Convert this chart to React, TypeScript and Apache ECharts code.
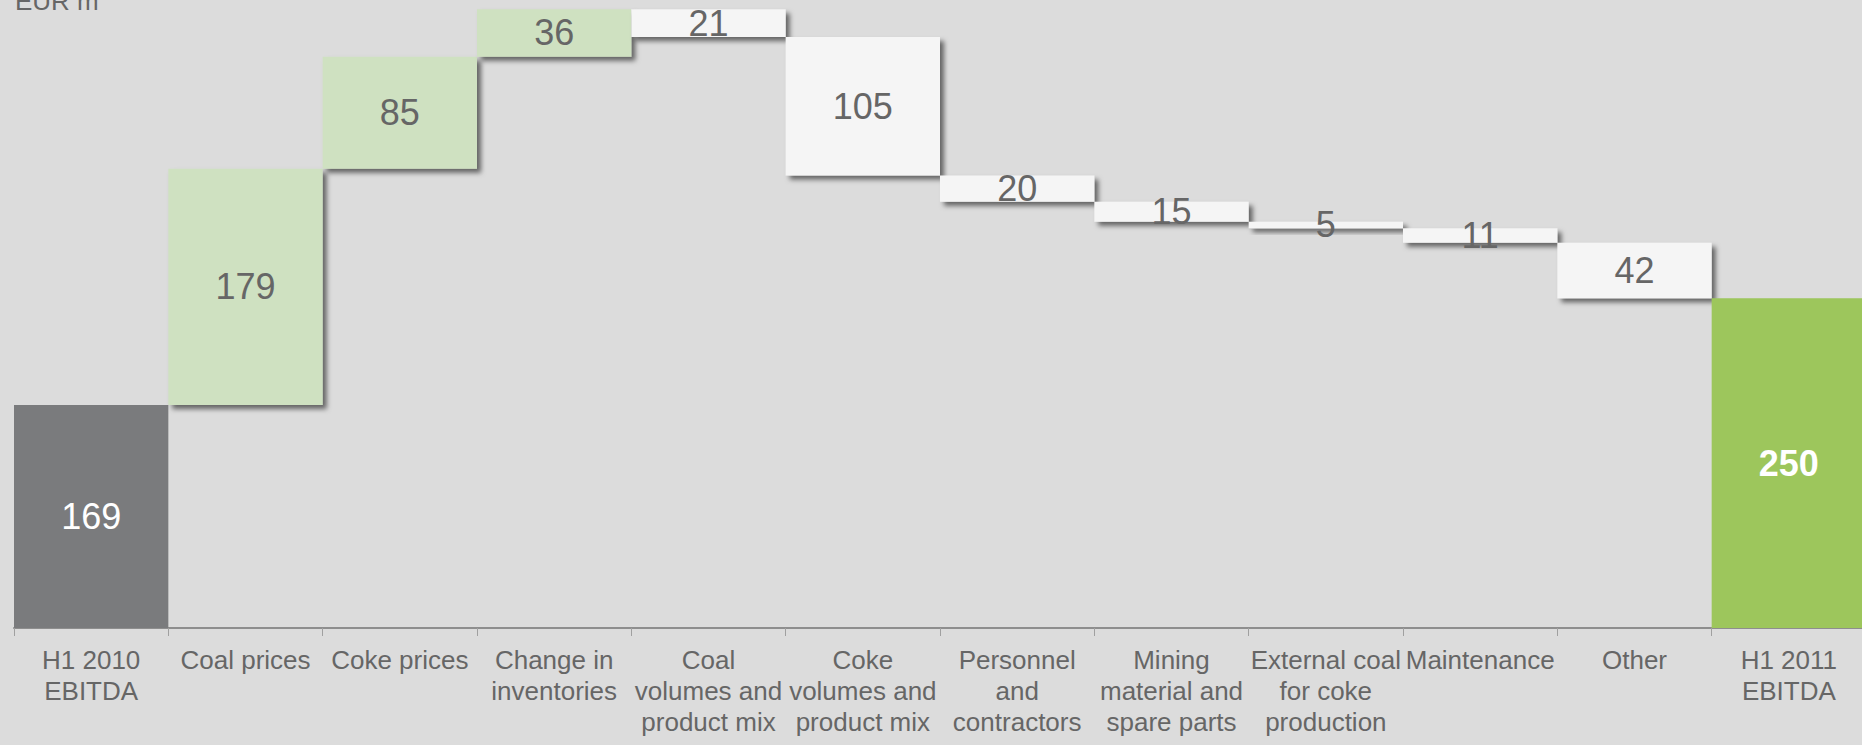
import React, { useEffect, useRef } from "react";
import * as echarts from "echarts";

// EBITDA bridge, EUR m
const categories = [
  "H1 2010\nEBITDA",
  "Coal prices",
  "Coke prices",
  "Change in\ninventories",
  "Coal\nvolumes and\nproduct mix",
  "Coke\nvolumes and\nproduct mix",
  "Personnel\nand\ncontractors",
  "Mining\nmaterial and\nspare parts",
  "External coal\nfor coke\nproduction",
  "Maintenance",
  "Other",
  "H1 2011\nEBITDA",
];

// first and last entries are totals, the rest are changes
const deltas = [169, 179, 85, 36, -21, -105, -20, -15, -5, -11, -42, 250];

const BG = "#DCDCDC";
const TEXT = "#666666";
const COL_START = "#7A7B7D";
const COL_UP = "#CFE1C1";
const COL_DOWN = "#F5F5F5";
const COL_END = "#9DC65C";
const FONT = 'Arial, "Liberation Sans", sans-serif';

function buildSteps() {
  const bases: number[] = [];
  const heights: number[] = [];
  let running = 0;
  deltas.forEach((d, i) => {
    if (i === 0 || i === deltas.length - 1) {
      bases.push(0);
      heights.push(d);
      running = d;
    } else if (d >= 0) {
      bases.push(running);
      heights.push(d);
      running += d;
    } else {
      running += d;
      bases.push(running);
      heights.push(-d);
    }
  });
  return { bases, heights };
}

export default function App() {
  const ref = useRef<HTMLDivElement>(null);

  useEffect(() => {
    document.body.style.margin = "0";
    document.body.style.background = BG;
    document.documentElement.style.overflow = "hidden";
    document.body.style.overflow = "hidden";
    if (!ref.current) return;
    const chart = echarts.init(ref.current, undefined, { renderer: "svg" });
    const { bases, heights } = buildSteps();
    const last = deltas.length - 1;

    const shadow = {
      shadowColor: "rgba(0,0,0,0.55)",
      shadowBlur: 5,
      shadowOffsetX: 4,
      shadowOffsetY: 4,
    };

    const barData = heights.map((h, i) => {
      if (i === 0) {
        return {
          value: h,
          itemStyle: { color: COL_START },
          label: { color: "#FFFFFF" },
        };
      }
      if (i === last) {
        return {
          value: h,
          itemStyle: { color: COL_END },
          label: { color: "#FFFFFF", fontWeight: "bold" },
        };
      }
      const up = deltas[i] >= 0;
      return {
        value: h,
        itemStyle: { color: up ? COL_UP : COL_DOWN, ...shadow },
      };
    });

    chart.setOption({
      animation: false,
      backgroundColor: BG,
      grid: { left: 14, top: 0, right: 0, bottom: 117, containLabel: false },
      graphic: [
        {
          type: "text",
          x: 15,
          y: 14,
          style: {
            text: "EUR m",
            fill: TEXT,
            font: `26px ${FONT}`,
            verticalAlign: "bottom",
          },
        },
      ],
      xAxis: {
        type: "category",
        data: categories,
        axisLine: { lineStyle: { color: "#8E8E8E", width: 2 } },
        axisTick: { show: true, length: 8, lineStyle: { color: "#A0A0A0", width: 1 } },
        axisLabel: {
          interval: 0,
          color: TEXT,
          fontFamily: FONT,
          fontSize: 26,
          lineHeight: 31,
          margin: 16,
          align: "center",
        },
      },
      yAxis: {
        type: "value",
        min: 0,
        max: 476,
        show: false,
        splitLine: { show: false },
      },
      series: [
        {
          type: "bar",
          stack: "bridge",
          data: bases,
          itemStyle: { color: "transparent" },
          emphasis: { disabled: true },
          silent: true,
          barCategoryGap: 0,
        },
        {
          type: "bar",
          stack: "bridge",
          data: barData,
          barCategoryGap: 0,
          label: {
            show: true,
            position: "inside",
            color: TEXT,
            fontFamily: FONT,
            fontSize: 36,
            formatter: (p: any) => String(Math.abs(deltas[p.dataIndex])),
          },
          labelLayout: { hideOverlap: false },
        },
      ],
    });

    return () => chart.dispose();
  }, []);

  return (
    <div
      ref={ref}
      style={{ width: 1866, height: 745, position: "absolute", left: 0, top: 0 }}
    />
  );
}
